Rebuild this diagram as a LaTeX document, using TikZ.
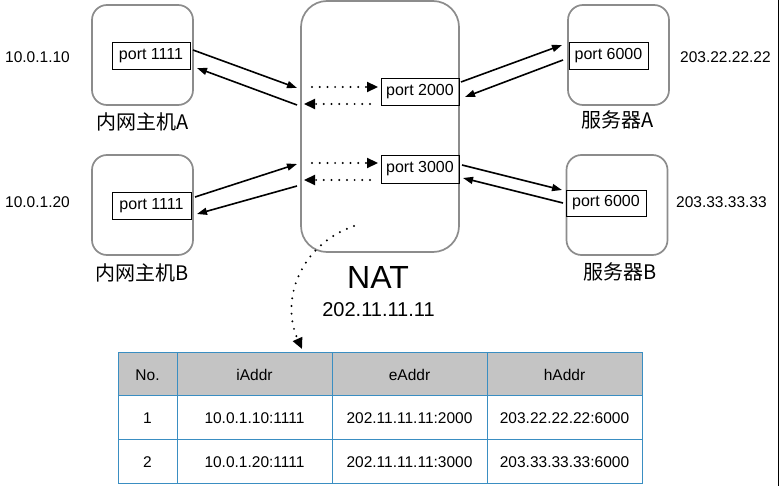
\documentclass[tikz,border=0pt]{standalone}
\usepackage{fontspec}
\setmainfont{Liberation Sans}
\newfontfamily\cjk{Noto Sans CJK SC}
\usetikzlibrary{arrows.meta}
\definecolor{boxgray}{HTML}{8C8C8C}
\definecolor{tblue}{HTML}{3A8EC2}
\definecolor{hgray}{HTML}{C4C4C4}
\tikzset{
  hostbox/.style={draw=boxgray, line width=1.7pt, rounded corners=15pt, minimum width=101pt, minimum height=100pt, inner sep=0pt},
  natbox/.style={draw=boxgray, line width=1.7pt, rounded corners=26pt, minimum width=158pt, minimum height=251pt, inner sep=0pt},
  portbox/.style={draw=black, line width=0.9pt, minimum height=27pt, inner sep=0pt, font=\fontsize{16}{19}\selectfont},
  iptext/.style={font=\fontsize{15.5}{18}\selectfont, inner sep=0pt},
  cjklabel/.style={font=\cjk\fontsize{20}{24}\selectfont, inner sep=0pt},
  arr/.style={line width=1.6pt, -{Triangle[length=10pt,width=7pt]}},
  dotarr/.style={line width=2.2pt, line cap=round, dash pattern=on 0pt off 7.7pt, -{Triangle[length=11pt,width=10pt]}},
  cell/.style={font=\fontsize{15.5}{18}\selectfont, inner sep=0pt},
}
\begin{document}
\begin{tikzpicture}[x=1pt,y=-1pt]
\useasboundingbox (0,0) rectangle (779,486);
\fill[white] (0,0) rectangle (779,486);
\draw[line width=1pt] (778.5,0) -- (778.5,486);

% boxes
\node[hostbox] (hostA) at (142.5,55) {};
\node[hostbox] (hostB) at (142.5,205) {};
\node[natbox] (nat) at (380,126.5) {};
\node[hostbox] (srvA) at (618.5,55) {};
\node[hostbox] (srvB) at (617,205) {};

% ports
\node[portbox, minimum width=78pt] (pA) at (151,55.5) {port 1111};
\node[portbox, minimum width=79pt] (pB) at (151.5,205.5) {port 1111};
\node[portbox, minimum width=78pt] (p2000) at (420,91.5) {port 2000};
\node[portbox, minimum width=78pt, minimum height=28pt] (p3000) at (420,169) {port 3000};
\node[portbox, minimum width=79pt] (p6A) at (608.5,55.5) {port 6000};
\node[portbox, minimum width=80pt, minimum height=26pt] (p6B) at (606,203) {port 6000};

% ip labels
\node[iptext, anchor=west] (ipA) at (5,57) {10.0.1.10};
\node[iptext, anchor=west] (ipB) at (5,202) {10.0.1.20};
\node[iptext, anchor=west] (ipSA) at (680,57) {203.22.22.22};
\node[iptext, anchor=west] (ipSB) at (676,202) {203.33.33.33};

% names
\node[cjklabel] (lA) at (143,122) {内网主机A};
\node[cjklabel] (lB) at (142,273) {内网主机B};
\node[cjklabel] (lSA) at (618,120) {服务器A};
\node[cjklabel] (lSB) at (620,272) {服务器B};
\node[inner sep=0pt, font=\fontsize{32}{36}\selectfont] (natlabel) at (378,277) {NAT};
\node[inner sep=0pt, font=\fontsize{20}{24}\selectfont] (natip) at (378.5,310) {202.11.11.11};

% solid arrows
\coordinate (a1s) at (193,50); \coordinate (a1e) at (297,88);
\coordinate (a2s) at (297,105); \coordinate (a2e) at (197,68);
\coordinate (b1s) at (195,197); \coordinate (b1e) at (297,164);
\coordinate (b2s) at (297,186); \coordinate (b2e) at (197,214);
\coordinate (s1s) at (461,82); \coordinate (s1e) at (562,45);
\coordinate (s2s) at (563,60); \coordinate (s2e) at (465,97);
\coordinate (t1s) at (462,165); \coordinate (t1e) at (562,190);
\coordinate (t2s) at (563,203); \coordinate (t2e) at (463,178);
\draw[arr] (a1s) -- (a1e);
\draw[arr] (a2s) -- (a2e);
\draw[arr] (b1s) -- (b1e);
\draw[arr] (b2s) -- (b2e);
\draw[arr] (s1s) -- (s1e);
\draw[arr] (s2s) -- (s2e);
\draw[arr] (t1s) -- (t1e);
\draw[arr] (t2s) -- (t2e);

% dotted arrows inside NAT
\coordinate (d1s) at (312,87); \coordinate (d1e) at (378,87);
\coordinate (d2s) at (370,104); \coordinate (d2e) at (304,104);
\coordinate (d3s) at (312,163); \coordinate (d3e) at (378,163);
\coordinate (d4s) at (370,180); \coordinate (d4e) at (304,180);
\draw[dotarr] (d1s) -- (d1e);
\draw[dotarr] (d2s) -- (d2e);
\draw[dotarr] (d3s) -- (d3e);
\draw[dotarr] (d4s) -- (d4e);

% curved dotted arrow to table
\coordinate (cs) at (354,226);
\coordinate (ce) at (302,349);
\draw[dotarr] (cs) .. controls (300,245) and (280,300) .. (ce);

% table
\fill[hgray] (118,352) rectangle (642,395);
\draw[tblue, line width=1pt] (118,352) rectangle (642,483);
\draw[tblue, line width=1pt] (118,395) -- (642,395);
\draw[tblue, line width=1pt] (118,439) -- (642,439);
\draw[tblue, line width=1pt] (177,352) -- (177,483);
\draw[tblue, line width=1pt] (332,352) -- (332,483);
\draw[tblue, line width=1pt] (487,352) -- (487,483);

\node[cell] (h1) at (147.5,375) {No.};
\node[cell] (h2) at (254.5,375) {iAddr};
\node[cell] (h3) at (409.5,375) {eAddr};
\node[cell] (h4) at (564.5,375) {hAddr};
\node[cell] (r11) at (147.5,418) {1};
\node[cell] (r12) at (254.5,418) {10.0.1.10:1111};
\node[cell] (r13) at (409.5,418) {202.11.11.11:2000};
\node[cell] (r14) at (564.5,418) {203.22.22.22:6000};
\node[cell] (r21) at (147.5,462) {2};
\node[cell] (r22) at (254.5,462) {10.0.1.20:1111};
\node[cell] (r23) at (409.5,462) {202.11.11.11:3000};
\node[cell] (r24) at (564.5,462) {203.33.33.33:6000};
\end{tikzpicture}
\end{document}
